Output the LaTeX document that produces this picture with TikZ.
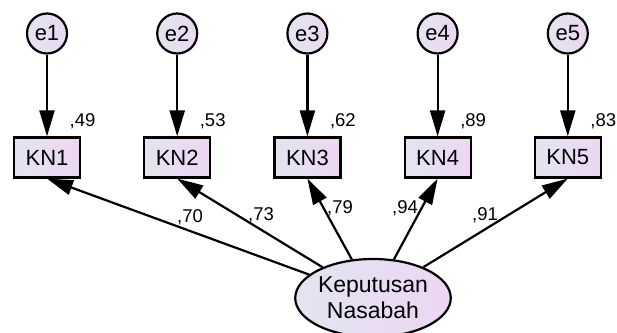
\documentclass[tikz,border=0pt]{standalone}
\usepackage{fontspec}
\setmainfont{Liberation Sans}
\usetikzlibrary{arrows.meta,shapes.geometric}
\definecolor{fillLeft}{RGB}{226,229,240}
\definecolor{fillRight}{RGB}{237,214,243}
\newcommand\colSep{130.2}
\newcommand\firstCol{47}
\newcommand\errRow{298.5}
\newcommand\obsRow{174.5}
\newcommand\numShift{35.5}
\newcommand\numRow{211}

\tikzset{
  errcirc/.style={circle, draw=black, line width=2.2pt, left color=fillLeft, right color=fillRight,
    minimum size=40pt, inner sep=0pt, font=\fontsize{22}{26}\selectfont},
  obsbox/.style={rectangle, draw=black, line width=2.2pt, left color=fillLeft, right color=fillRight,
    minimum width=66pt, minimum height=40pt, inner sep=0pt, font=\fontsize{22}{26}\selectfont},
  latent/.style={ellipse, draw=black, line width=2.2pt, left color=fillLeft, right color=fillRight,
    minimum width=139pt, minimum height=78pt, inner sep=0pt, align=center, font=\fontsize{23}{26}\selectfont},
  num/.style={inner sep=0pt, font=\fontsize{18.5}{20}\selectfont},
  load/.style={line width=2.2pt, -{Triangle[length=26pt,width=15pt]}}
}

\begin{document}
\begin{tikzpicture}[x=1pt,y=1pt]

    \useasboundingbox (0,0) rectangle (617,332);

    % error terms
    \node[errcirc] (e1) at ({\firstCol+\colSep*0},\errRow) {e1};
    \node[errcirc] (e2) at ({\firstCol+\colSep*1},\errRow) {e2};
    \node[errcirc] (e3) at ({\firstCol+\colSep*2},\errRow) {e3};
    \node[errcirc] (e4) at ({\firstCol+\colSep*3},\errRow) {e4};
    \node[errcirc] (e5) at ({\firstCol+\colSep*4},\errRow) {e5};

    % indicators
    \node[obsbox] (kn1) at ({\firstCol+\colSep*0},\obsRow) {KN1};
    \node[obsbox] (kn2) at ({\firstCol+\colSep*1},\obsRow) {KN2};
    \node[obsbox] (kn3) at ({\firstCol+\colSep*2},\obsRow) {KN3};
    \node[obsbox] (kn4) at ({\firstCol+\colSep*3},\obsRow) {KN4};
    \node[obsbox] (kn5) at ({\firstCol+\colSep*4},\obsRow) {KN5};

    \node[num] (r1) at ({\firstCol+\colSep*0+\numShift},\numRow) {,49};
    \node[num] (r2) at ({\firstCol+\colSep*1+\numShift},\numRow) {,53};
    \node[num] (r3) at ({\firstCol+\colSep*2+\numShift},\numRow) {,62};
    \node[num] (r4) at ({\firstCol+\colSep*3+\numShift},\numRow) {,89};
    \node[num] (r5) at ({\firstCol+\colSep*4+\numShift},\numRow) {,83};

    \draw[load] (e1) -- (kn1);
    \draw[load] (e2) -- (kn2);
    \draw[load] (e3) -- (kn3);
    \draw[load] (e4) -- (kn4);
    \draw[load] (e5) -- (kn5);

    % latent variable
    \node[latent] (kep) at (373,34) {Keputusan\\Nasabah};

    \draw[load] (kep) -- (kn1.south);
    \draw[load] (kep) -- (kn2.south);
    \draw[load] (kep) -- (kn3.south);
    \draw[load] (kep) -- (kn4.south);
    \draw[load] (kep) -- (kn5.south);

    \node[num] (l1) at (190,115) {,70};
    \node[num] (l2) at (261,117) {,73};
    \node[num] (l3) at (340,124) {,79};
    \node[num] (l4) at (405,124) {,94};
    \node[num] (l5) at (485,117) {,91};

\end{tikzpicture}
\end{document}
